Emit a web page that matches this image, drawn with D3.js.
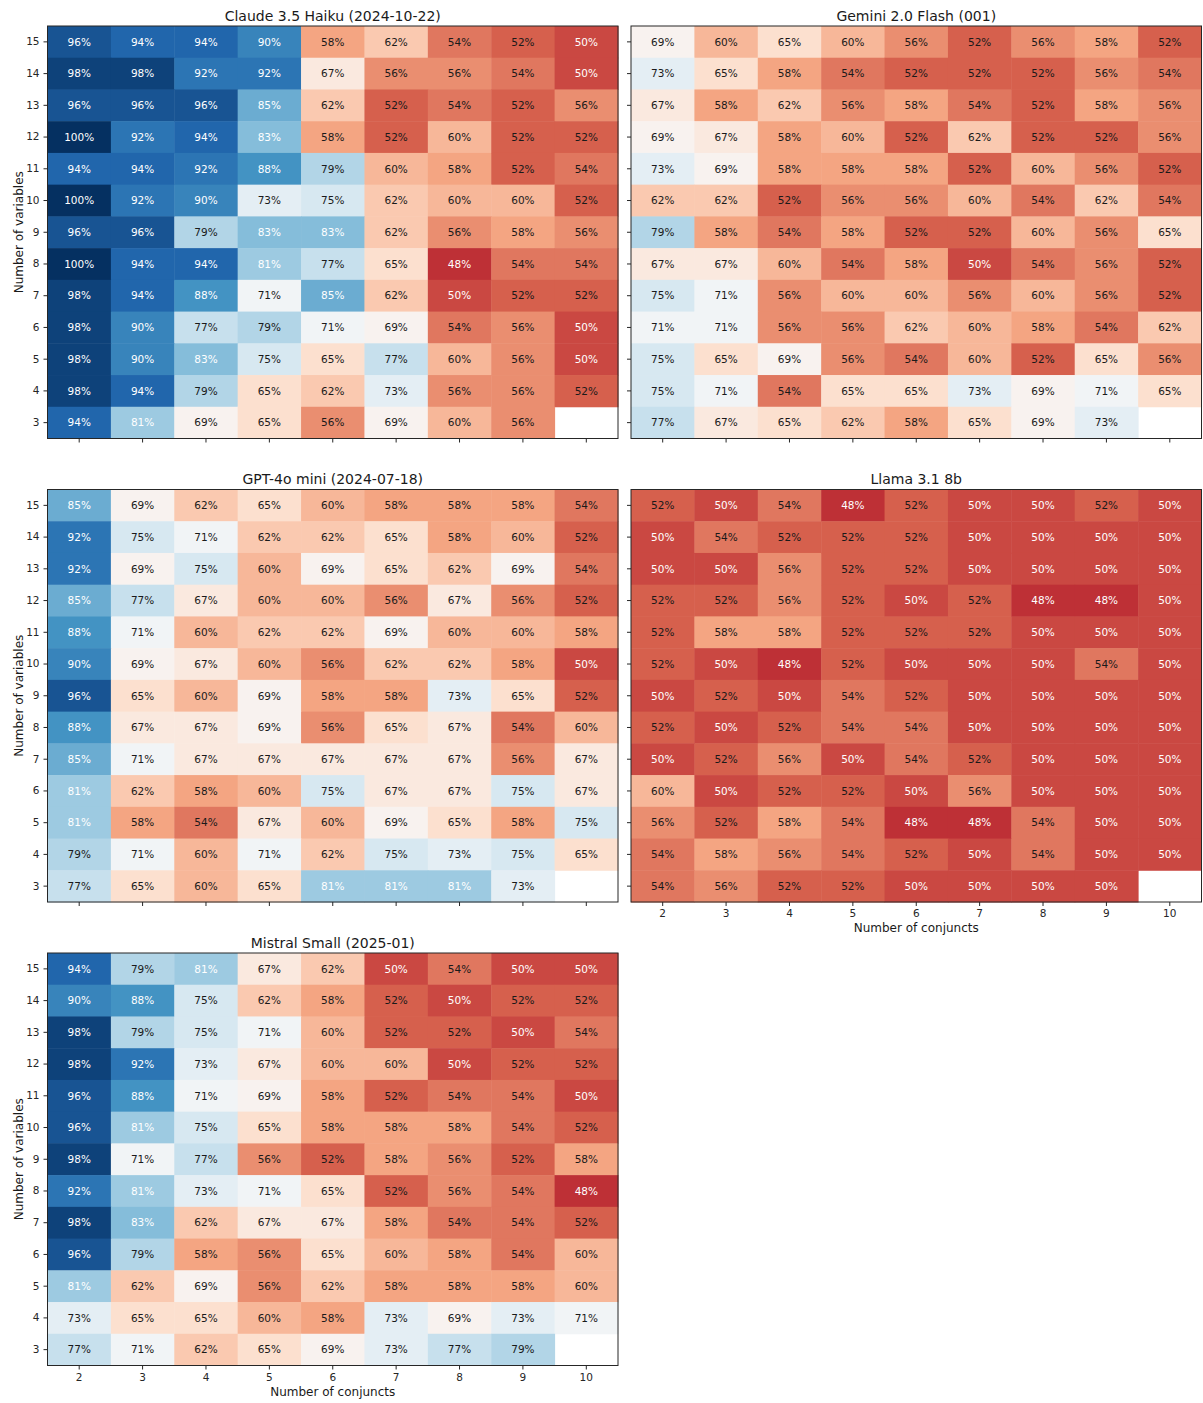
<!DOCTYPE html>
<html>
<head>
<meta charset="utf-8">
<script src="https://cdn.jsdelivr.net/npm/d3@7"></script>
<style>
body { margin: 0; background: #fff; }
svg text { font-family: "DejaVu Sans", sans-serif; }
</style>
</head>
<body>
<svg width="1203" height="1403"></svg>
<script>
var conjuncts = [2, 3, 4, 5, 6, 7, 8, 9, 10];
var variables = [15, 14, 13, 12, 11, 10, 9, 8, 7, 6, 5, 4, 3];

// accuracy in %, rows follow `variables`, columns follow `conjuncts`
var claude = [
  [96, 94, 94, 90, 58, 62, 54, 52, 50],
  [98, 98, 92, 92, 67, 56, 56, 54, 50],
  [96, 96, 96, 85, 62, 52, 54, 52, 56],
  [100, 92, 94, 83, 58, 52, 60, 52, 52],
  [94, 94, 92, 88, 79, 60, 58, 52, 54],
  [100, 92, 90, 73, 75, 62, 60, 60, 52],
  [96, 96, 79, 83, 83, 62, 56, 58, 56],
  [100, 94, 94, 81, 77, 65, 48, 54, 54],
  [98, 94, 88, 71, 85, 62, 50, 52, 52],
  [98, 90, 77, 79, 71, 69, 54, 56, 50],
  [98, 90, 83, 75, 65, 77, 60, 56, 50],
  [98, 94, 79, 65, 62, 73, 56, 56, 52],
  [94, 81, 69, 65, 56, 69, 60, 56, null]
];

var gemini = [
  [69, 60, 65, 60, 56, 52, 56, 58, 52],
  [73, 65, 58, 54, 52, 52, 52, 56, 54],
  [67, 58, 62, 56, 58, 54, 52, 58, 56],
  [69, 67, 58, 60, 52, 62, 52, 52, 56],
  [73, 69, 58, 58, 58, 52, 60, 56, 52],
  [62, 62, 52, 56, 56, 60, 54, 62, 54],
  [79, 58, 54, 58, 52, 52, 60, 56, 65],
  [67, 67, 60, 54, 58, 50, 54, 56, 52],
  [75, 71, 56, 60, 60, 56, 60, 56, 52],
  [71, 71, 56, 56, 62, 60, 58, 54, 62],
  [75, 65, 69, 56, 54, 60, 52, 65, 56],
  [75, 71, 54, 65, 65, 73, 69, 71, 65],
  [77, 67, 65, 62, 58, 65, 69, 73, null]
];

var gpt4oMini = [
  [85, 69, 62, 65, 60, 58, 58, 58, 54],
  [92, 75, 71, 62, 62, 65, 58, 60, 52],
  [92, 69, 75, 60, 69, 65, 62, 69, 54],
  [85, 77, 67, 60, 60, 56, 67, 56, 52],
  [88, 71, 60, 62, 62, 69, 60, 60, 58],
  [90, 69, 67, 60, 56, 62, 62, 58, 50],
  [96, 65, 60, 69, 58, 58, 73, 65, 52],
  [88, 67, 67, 69, 56, 65, 67, 54, 60],
  [85, 71, 67, 67, 67, 67, 67, 56, 67],
  [81, 62, 58, 60, 75, 67, 67, 75, 67],
  [81, 58, 54, 67, 60, 69, 65, 58, 75],
  [79, 71, 60, 71, 62, 75, 73, 75, 65],
  [77, 65, 60, 65, 81, 81, 81, 73, null]
];

var llama = [
  [52, 50, 54, 48, 52, 50, 50, 52, 50],
  [50, 54, 52, 52, 52, 50, 50, 50, 50],
  [50, 50, 56, 52, 52, 50, 50, 50, 50],
  [52, 52, 56, 52, 50, 52, 48, 48, 50],
  [52, 58, 58, 52, 52, 52, 50, 50, 50],
  [52, 50, 48, 52, 50, 50, 50, 54, 50],
  [50, 52, 50, 54, 52, 50, 50, 50, 50],
  [52, 50, 52, 54, 54, 50, 50, 50, 50],
  [50, 52, 56, 50, 54, 52, 50, 50, 50],
  [60, 50, 52, 52, 50, 56, 50, 50, 50],
  [56, 52, 58, 54, 48, 48, 54, 50, 50],
  [54, 58, 56, 54, 52, 50, 54, 50, 50],
  [54, 56, 52, 52, 50, 50, 50, 50, null]
];

var mistral = [
  [94, 79, 81, 67, 62, 50, 54, 50, 50],
  [90, 88, 75, 62, 58, 52, 50, 52, 52],
  [98, 79, 75, 71, 60, 52, 52, 50, 54],
  [98, 92, 73, 67, 60, 60, 50, 52, 52],
  [96, 88, 71, 69, 58, 52, 54, 54, 50],
  [96, 81, 75, 65, 58, 58, 58, 54, 52],
  [98, 71, 77, 56, 52, 58, 56, 52, 58],
  [92, 81, 73, 71, 65, 52, 56, 54, 48],
  [98, 83, 62, 67, 67, 58, 54, 54, 52],
  [96, 79, 58, 56, 65, 60, 58, 54, 60],
  [81, 62, 69, 56, 62, 58, 58, 58, 60],
  [73, 65, 65, 60, 58, 73, 69, 73, 71],
  [77, 71, 62, 65, 69, 73, 77, 79, null]
];

var models = ["Claude 3.5 Haiku (2024-10-22)", "Gemini 2.0 Flash (001)", "GPT-4o mini (2024-07-18)", "Llama 3.1 8b", "Mistral Small (2025-01)"];
var scores = [claude, gemini, gpt4oMini, llama, mistral];

var svg = d3.select("svg");

var panelW = 570.5, panelH = 412.5;
var lefts = [47.5, 631], tops = [26, 489.5, 953];

// matplotlib RdBu, vmin 40% .. vmax 100%
var rdbu = ["#67001f", "#b2182b", "#d6604d", "#f4a582", "#fddbc7", "#f7f7f7",
            "#d1e5f0", "#92c5de", "#4393c3", "#2166ac", "#053061"];
var color = d3.scaleLinear()
    .domain(d3.range(11).map(function(i) { return 40 + i * 6; }))
    .range(rdbu)
    .interpolate(d3.interpolateRgb)
    .clamp(true);

var x = d3.scaleBand().domain(conjuncts).range([0, panelW]);
var y = d3.scaleBand().domain(variables).range([0, panelH]);

models.forEach(function(name, i) {
  var col = i % 2, row = Math.floor(i / 2);
  var g = svg.append("g")
      .attr("transform", "translate(" + lefts[col] + "," + tops[row] + ")");

  var cells = [];
  scores[i].forEach(function(r, ri) {
    r.forEach(function(v, ci) {
      if (v != null) cells.push({v: variables[ri], c: conjuncts[ci], value: v});
    });
  });

  g.selectAll("rect.cell")
    .data(cells)
    .enter().append("rect")
      .attr("class", "cell")
      .attr("x", function(d) { return x(d.c); })
      .attr("y", function(d) { return y(d.v); })
      .attr("width", x.bandwidth() + 0.5)
      .attr("height", y.bandwidth() + 0.5)
      .attr("fill", function(d) { return color(d.value); });

  g.selectAll("text.val")
    .data(cells)
    .enter().append("text")
      .attr("class", "val")
      .attr("x", function(d) { return x(d.c) + x.bandwidth() / 2; })
      .attr("y", function(d) { return y(d.v) + y.bandwidth() / 2; })
      .attr("dy", "0.36em")
      .attr("text-anchor", "middle")
      .style("font-size", "10.5px")
      .attr("fill", function(d) { return (d.value <= 50 || d.value >= 81) ? "#fff" : "#1a1a1a"; })
      .text(function(d) { return d.value + "%"; });

  g.append("rect")
      .attr("width", panelW)
      .attr("height", panelH)
      .attr("fill", "none")
      .attr("stroke", "#262626")
      .attr("stroke-width", 1);

  var yAxis = d3.axisLeft(y).tickSize(4).tickPadding(4).tickSizeOuter(0);
  if (col != 0) yAxis.tickFormat("");
  var ya = g.append("g").call(yAxis);

  var xAxis = d3.axisBottom(x).tickSize(4).tickPadding(4).tickSizeOuter(0);
  if (i < 3) xAxis.tickFormat("");
  var xa = g.append("g").attr("transform", "translate(0," + panelH + ")").call(xAxis);

  [ya, xa].forEach(function(a) {
    a.select(".domain").remove();
    a.selectAll("line").attr("stroke", "#262626");
    a.selectAll("text").style("font-size", "10.5px").attr("fill", "#262626")
        .style("font-family", "DejaVu Sans");
  });

  g.append("text")
      .attr("x", panelW / 2)
      .attr("y", -5.5)
      .attr("text-anchor", "middle")
      .style("font-size", "14px")
      .attr("fill", "#1a1a1a")
      .text(name);

  if (col == 0) {
    g.append("text")
        .attr("transform", "translate(" + (23 - lefts[col]) + "," + (panelH / 2) + ") rotate(-90)")
        .attr("text-anchor", "middle")
        .style("font-size", "12px")
        .attr("fill", "#1a1a1a")
        .text("Number of variables");
  }
  if (i >= 3) {
    g.append("text")
        .attr("x", panelW / 2)
        .attr("y", panelH + 30)
        .attr("text-anchor", "middle")
        .style("font-size", "12px")
        .attr("fill", "#1a1a1a")
        .text("Number of conjuncts");
  }
});
</script>
</body>
</html>
